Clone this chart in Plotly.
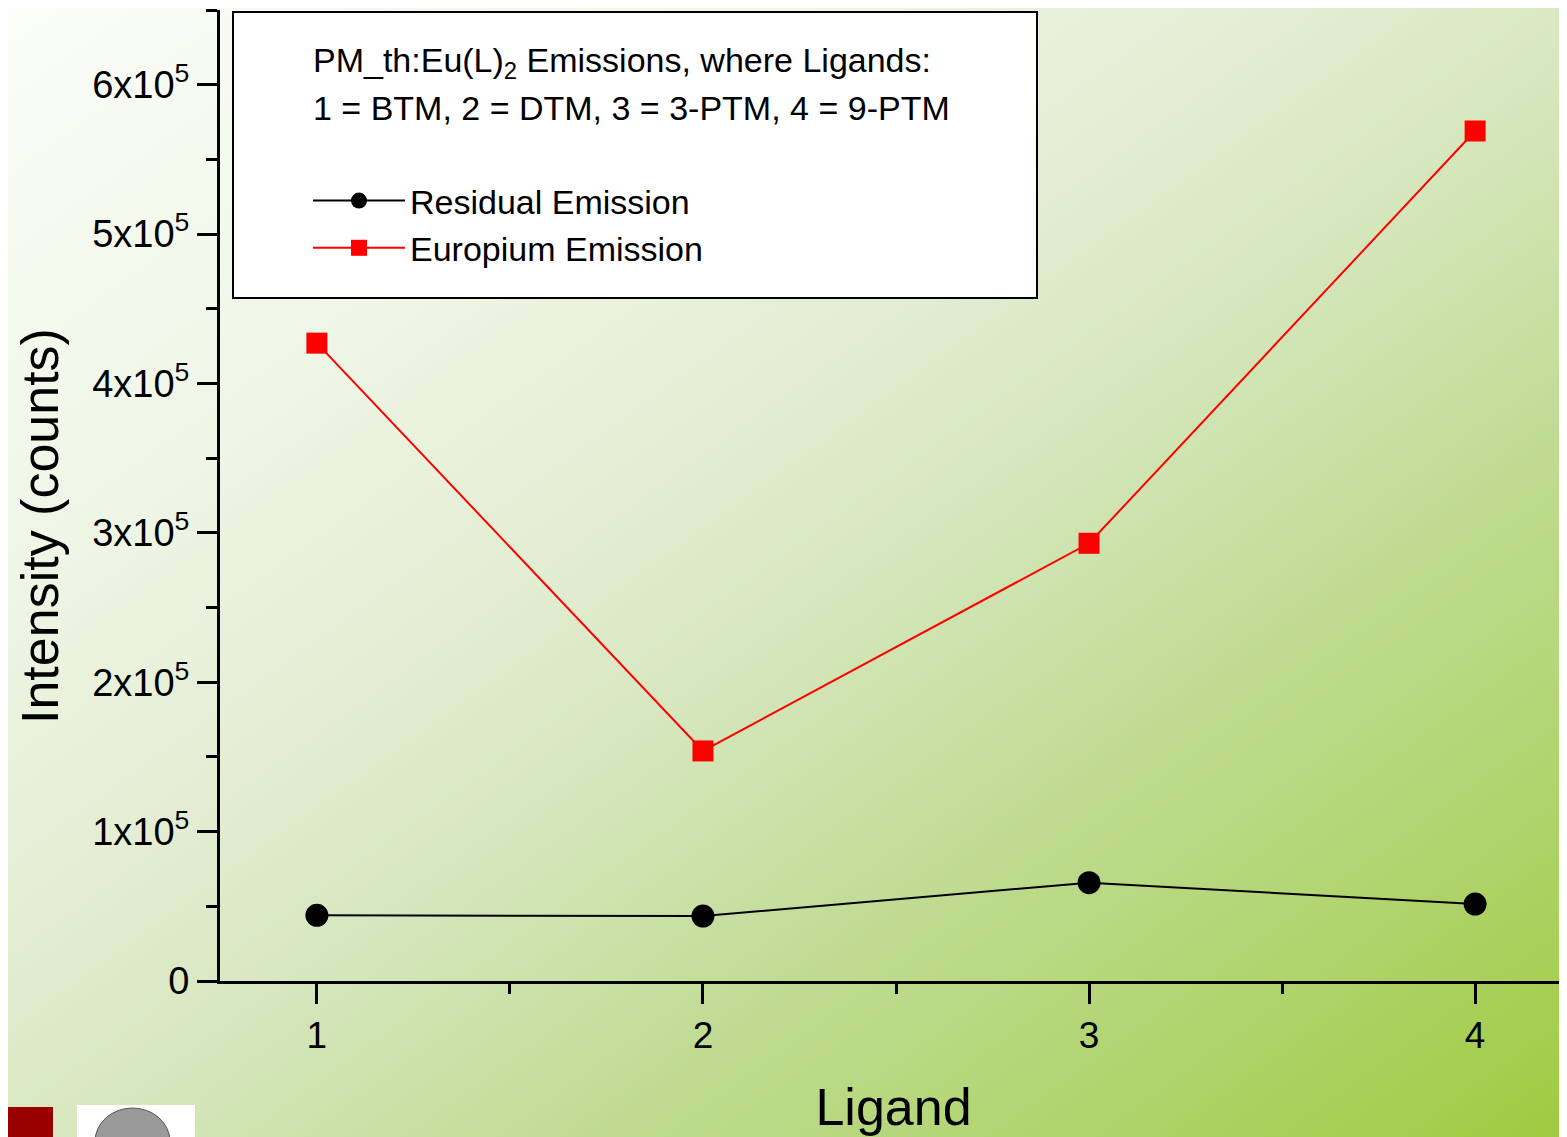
import base64
import plotly.graph_objects as go

# data
ligand = [1, 2, 3, 4]
residual = [44000, 43500, 65800, 51500]
europium = [427000, 154000, 293000, 569000]

y_tickvals = [0, 100000, 200000, 300000, 400000, 500000, 600000]
y_ticktext = ['0', '1x10<sup>5</sup>', '2x10<sup>5</sup>', '3x10<sup>5</sup>',
              '4x10<sup>5</sup>', '5x10<sup>5</sup>', '6x10<sup>5</sup>']

header = ['PM_th:Eu(L)<sub>2</sub> Emissions, where Ligands:',
          '1 = BTM, 2 = DTM, 3 = 3-PTM, 4 = 9-PTM']

#---------
# the page body adds 8px around the figure, so work in screen px and shift
OFF = 8
W, H = 1567 - OFF, 1137 - OFF
ML, MT, MR = 220 - OFF, 10 - OFF, 0
MB = H - (981 - OFF)
PW = W - ML - MR
PH = H - MT - MB

def px(x):
    return (x - OFF - ML) / PW

def py(y):
    return 1 - (y - OFF - MT) / PH

FONT = 'Liberation Sans, Arial, sans-serif'

# slide background: white top-left fading to green bottom-right
svg = ('<svg xmlns="http://www.w3.org/2000/svg" width="400" height="300" '
       'viewBox="0 0 400 300" preserveAspectRatio="none">'
       '<defs><linearGradient id="g" x1="0" y1="0" x2="1" y2="1">'
       '<stop offset="0" stop-color="#fbfdf8"/>'
       '<stop offset="0.25" stop-color="#eff6e6"/>'
       '<stop offset="0.42" stop-color="#e2edd2"/>'
       '<stop offset="0.52" stop-color="#d7e7bf"/>'
       '<stop offset="0.68" stop-color="#c0dc94"/>'
       '<stop offset="0.85" stop-color="#afd36a"/>'
       '<stop offset="1" stop-color="#a0ca40"/>'
       '</linearGradient></defs>'
       '<rect width="400" height="300" fill="url(#g)"/></svg>')
bg_src = 'data:image/svg+xml;base64,' + base64.b64encode(svg.encode()).decode()

fig = go.Figure()

fig.add_trace(go.Scatter(
    x=ligand, y=residual, mode='lines+markers',
    name='Residual Emission',
    line={'color': 'black', 'width': 2},
    marker={'symbol': 'circle', 'size': 23, 'color': 'black'}))

fig.add_trace(go.Scatter(
    x=ligand, y=europium, mode='lines+markers',
    name='Europium Emission',
    line={'color': '#ff0000', 'width': 2},
    marker={'symbol': 'square', 'size': 21, 'color': '#ff0000'}))

shapes = [
    # legend frame
    dict(type='rect', xref='paper', yref='paper',
         x0=px(233), x1=px(1037), y0=py(298), y1=py(12),
         fillcolor='white', line={'color': 'black', 'width': 2},
         layer='below'),
    # slide logos bottom-left
    dict(type='rect', xref='paper', yref='paper',
         x0=px(8), x1=px(53), y0=py(1140), y1=py(1107),
         fillcolor='#990000', line={'width': 0}),
    dict(type='rect', xref='paper', yref='paper',
         x0=px(77), x1=px(195), y0=py(1140), y1=py(1105),
         fillcolor='white', line={'width': 0}),
    dict(type='circle', xref='paper', yref='paper',
         x0=px(95), x1=px(170), y0=py(1175), y1=py(1108),
         fillcolor='#9a9a9a', line={'color': '#555555', 'width': 1}),
]

annotations = []
for i, t in enumerate(header):
    annotations.append(dict(
        text=t, xref='paper', yref='paper',
        x=px(311), y=py(63 + 45 * i), xanchor='left', yanchor='middle',
        showarrow=False, font={'family': FONT, 'size': 34, 'color': 'black'}))

# y title sits a bit below the plot centre in the original
annotations.append(dict(
    text='Intensity (counts)', xref='paper', yref='paper',
    x=px(40), y=py(526), xanchor='center', yanchor='middle',
    textangle=-90, showarrow=False,
    font={'family': FONT, 'size': 52, 'color': 'black'}))

fig.update_layout(
    width=W, height=H,
    margin=dict(l=ML, r=MR, t=MT, b=MB),
    paper_bgcolor='rgba(0,0,0,0)',
    plot_bgcolor='rgba(0,0,0,0)',
    font={'family': FONT, 'color': 'black'},
    images=[dict(source=bg_src, xref='paper', yref='paper',
                 x=-ML / PW, y=1 + MT / PH, sizex=W / PW, sizey=H / PH,
                 xanchor='left', yanchor='top', sizing='stretch',
                 layer='below')],
    shapes=shapes,
    annotations=annotations,
    showlegend=True,
    legend=dict(
        x=px(308), y=py(172), xanchor='left', yanchor='top',
        bgcolor='rgba(0,0,0,0)', borderwidth=0,
        font={'family': FONT, 'size': 34, 'color': 'black'},
        itemwidth=92, tracegroupgap=0),
    xaxis=dict(
        range=[0.749, 4.238], tickmode='linear', tick0=1, dtick=1,
        showline=True, linecolor='black', linewidth=3,
        ticks='outside', ticklen=20, tickwidth=3, tickcolor='black',
        minor=dict(dtick=0.5, tick0=1, ticks='outside', ticklen=10,
                   tickwidth=3, tickcolor='black'),
        showgrid=False, zeroline=False,
        tickfont={'family': FONT, 'size': 37, 'color': 'black'},
        title=dict(text='Ligand', standoff=34,
                   font={'family': FONT, 'size': 52, 'color': 'black'})),
    yaxis=dict(
        range=[0, 650000], tickmode='array',
        tickvals=y_tickvals, ticktext=y_ticktext,
        showline=True, linecolor='black', linewidth=3,
        ticks='outside', ticklen=20, tickwidth=3, tickcolor='black',
        minor=dict(dtick=50000, tick0=0, ticks='outside', ticklen=11,
                   tickwidth=3, tickcolor='black'),
        showgrid=False, zeroline=False,
        tickfont={'family': FONT, 'size': 38, 'color': 'black'}),
)

fig.write_html('out.html')
